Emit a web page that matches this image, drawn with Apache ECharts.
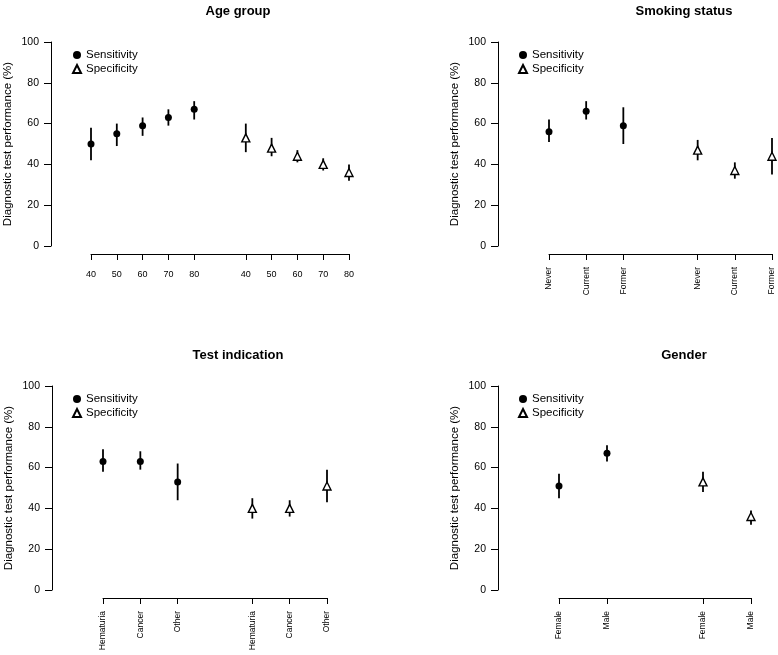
<!DOCTYPE html>
<html>
<head>
<meta charset="utf-8">
<script src="https://cdn.jsdelivr.net/npm/echarts@6/dist/echarts.min.js"></script>
<style>
html,body{margin:0;padding:0;background:#fff;}
#chart{width:778px;height:655px;}
</style>
</head>
<body>
<div id="chart"></div>
<script>
// ---- Data ----
const yTicks = [0, 20, 40, 60, 80, 100];

const ageTitle = 'Age group';
const ageCats = ['40', '50', '60', '70', '80'];
const ageSens = [50, 55, 59, 63, 67];
const ageSensLo = [42, 49, 54, 59, 62];
const ageSensHi = [58, 60, 63, 67, 71];
const ageSpec = [53, 48, 44, 40, 36];
const ageSpecLo = [46, 44, 41, 37, 32];
const ageSpecHi = [60, 53, 47, 43, 40];

const smokeTitle = 'Smoking status';
const smokeCats = ['Never', 'Current', 'Former'];
const smokeSens = [56, 66, 59];
const smokeSensLo = [51, 62, 50];
const smokeSensHi = [62, 71, 68];
const smokeSpec = [47, 37, 44];
const smokeSpecLo = [42, 33, 35];
const smokeSpecHi = [52, 41, 53];

const indTitle = 'Test indication';
const indCats = ['Hematuria', 'Cancer', 'Other'];
const indSens = [63, 63, 53];
const indSensLo = [58, 59, 44];
const indSensHi = [69, 68, 62];
const indSpec = [40, 40, 51];
const indSpecLo = [35, 36, 43];
const indSpecHi = [45, 44, 59];

const genderTitle = 'Gender';
const genderCats = ['Female', 'Male'];
const genderSens = [51, 67];
const genderSensLo = [45, 63];
const genderSensHi = [57, 71];
const genderSpec = [53, 36];
const genderSpecLo = [48, 32];
const genderSpecHi = [58, 39];

const yName = 'Diagnostic test performance (%)';
const seriesNames = ['Sensitivity', 'Specificity'];

// ---- Layout / style ----
const FONT = '"Liberation Sans", Arial, Helvetica, sans-serif';
const panels = [
  {title: ageTitle, cats: ageCats, sens: ageSens, sensLo: ageSensLo, sensHi: ageSensHi,
   spec: ageSpec, specLo: ageSpecLo, specHi: ageSpecHi,
   grid: {left: 91, width: 258, top: 42, height: 204}, yOffset: 40, rotate: 0, titleX: 233, titleY: 0, legendX: 72},
  {title: smokeTitle, cats: smokeCats, sens: smokeSens, sensLo: smokeSensLo, sensHi: smokeSensHi,
   spec: smokeSpec, specLo: smokeSpecLo, specHi: smokeSpecHi,
   grid: {left: 549, width: 223, top: 42, height: 204}, yOffset: 51, rotate: 90, titleX: 679, titleY: 0, legendX: 518},
  {title: indTitle, cats: indCats, sens: indSens, sensLo: indSensLo, sensHi: indSensHi,
   spec: indSpec, specLo: indSpecLo, specHi: indSpecHi,
   grid: {left: 103, width: 224, top: 386, height: 204}, yOffset: 51, rotate: 90, titleX: 233, titleY: 344, legendX: 72},
  {title: genderTitle, cats: genderCats, sens: genderSens, sensLo: genderSensLo, sensHi: genderSensHi,
   spec: genderSpec, specLo: genderSpecLo, specHi: genderSpecHi,
   grid: {left: 559, width: 192, top: 386, height: 204}, yOffset: 61, rotate: 90, titleX: 679, titleY: 344, legendX: 518}
];

const option = {
  backgroundColor: '#fff',
  animation: false,
  textStyle: {fontFamily: FONT, color: '#000'},
  title: [], legend: [], grid: [], xAxis: [], yAxis: [], series: []
};

function errRender(params, api) {
  const p1 = api.coord([api.value(0), api.value(1)]);
  const p2 = api.coord([api.value(0), api.value(2)]);
  return {type: 'line', shape: {x1: p1[0], y1: p1[1], x2: p2[0], y2: p2[1]},
          style: {stroke: '#000', lineWidth: 1.8}};
}

panels.forEach((p, i) => {
  const n = p.cats.length;
  const sensPos = p.cats.map((c, k) => k + 1);
  const specPos = p.cats.map((c, k) => n + 2 + k);
  const allPos = sensPos.concat(specPos);
  const labelMap = {};
  allPos.forEach((v, k) => { labelMap[v] = p.cats[k % n]; });

  option.title.push({
    text: p.title, left: p.titleX, top: p.titleY, textAlign: 'center',
    textStyle: {fontFamily: FONT, fontSize: 13, fontWeight: 'bold', color: '#000'}
  });
  option.grid.push(Object.assign({containLabel: false}, p.grid));
  option.xAxis.push({
    type: 'value', gridIndex: i, min: 1, max: 2 * n + 1, offset: 8,
    splitLine: {show: false},
    axisLine: {show: true, onZero: false, lineStyle: {color: '#000', width: 1}},
    axisTick: {show: true, length: 6, customValues: allPos, lineStyle: {color: '#000', width: 1}},
    axisLabel: {show: true, customValues: allPos, rotate: p.rotate, margin: p.rotate ? 13 : 16,
      fontSize: p.rotate ? 8.5 : 9, color: '#000', fontFamily: FONT,
      formatter: v => labelMap[v] || ''}
  });
  option.yAxis.push({
    type: 'value', gridIndex: i, min: 0, max: 100, interval: 20, offset: p.yOffset,
    splitLine: {show: false},
    axisLine: {show: true, lineStyle: {color: '#000', width: 1}},
    axisTick: {show: true, length: 7, lineStyle: {color: '#000', width: 1}},
    axisLabel: {show: true, customValues: yTicks, margin: 12, fontSize: 10.5, color: '#000', fontFamily: FONT},
    name: yName, nameLocation: 'middle', nameGap: 37,
    nameTextStyle: {fontSize: 11.5, color: '#000', fontFamily: FONT}
  });
  option.legend.push({
    orient: 'vertical', left: p.legendX, top: p.grid.top + 7, padding: 0,
    itemWidth: 8, itemHeight: 8, itemGap: 2, itemTextGap: 6,
    selectedMode: false,
    textStyle: {fontSize: 11.5, color: '#000', fontFamily: FONT, lineHeight: 12},
    data: [{name: seriesNames[0], icon: 'circle'}, {name: seriesNames[1], icon: 'triangle'}]
  });
  // error bars
  option.series.push({
    type: 'custom', name: 'err' + i, xAxisIndex: i, yAxisIndex: i, z: 1,
    renderItem: errRender, encode: {x: 0, y: [1, 2]},
    data: sensPos.map((x, k) => [x, p.sensLo[k], p.sensHi[k]])
      .concat(specPos.map((x, k) => [x, p.specLo[k], p.specHi[k]]))
  });
  option.series.push({
    type: 'scatter', name: seriesNames[0], xAxisIndex: i, yAxisIndex: i, z: 3, clip: false,
    symbol: 'circle', symbolSize: 7,
    itemStyle: {color: '#000', opacity: 1},
    data: sensPos.map((x, k) => [x, p.sens[k]])
  });
  option.series.push({
    type: 'scatter', name: seriesNames[1], xAxisIndex: i, yAxisIndex: i, z: 3, clip: false,
    symbol: 'triangle', symbolSize: 8,
    itemStyle: {color: '#fff', borderColor: '#000', borderWidth: 1.4, opacity: 1},
    data: specPos.map((x, k) => [x, p.spec[k]])
  });
});

const chart = echarts.init(document.getElementById('chart'), null, {renderer: 'canvas'});
chart.setOption(option);
</script>
</body>
</html>
